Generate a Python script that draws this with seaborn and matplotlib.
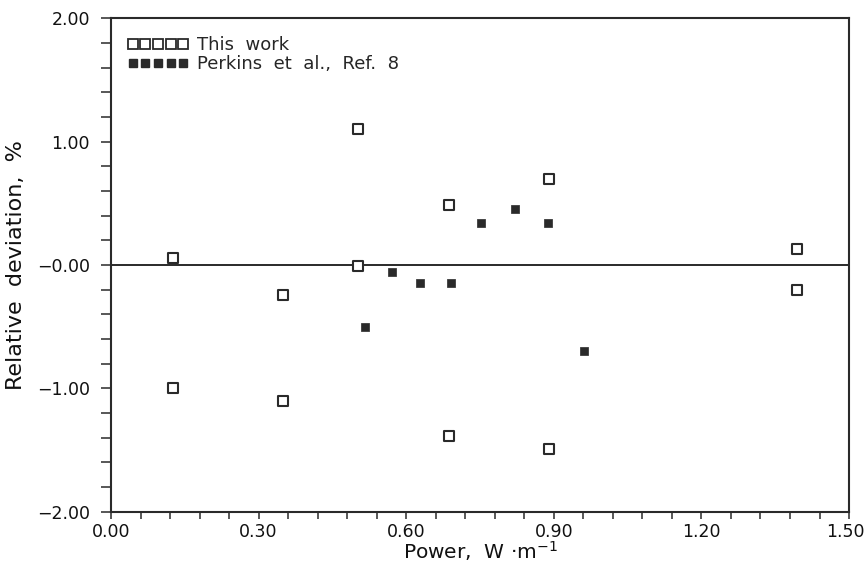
import numpy as np
import pandas as pd
import matplotlib
matplotlib.use('Agg')
import matplotlib.pyplot as plt
import matplotlib.transforms as mtransforms
from matplotlib.lines import Line2D
from matplotlib.ticker import MultipleLocator, FixedLocator, FixedFormatter
import seaborn as sns

##################################################################
# data
this_power = [0.125, 0.125, 0.350, 0.350, 0.503, 0.503, 0.687, 0.687, 0.890, 0.890, 1.394, 1.394]
this_dev = [0.06, -1.00, -0.24, -1.10, 1.10, -0.005, 0.49, -1.39, 0.70, -1.49, 0.13, -0.20]

perk_power = [0.517, 0.571, 0.629, 0.690, 0.753, 0.821, 0.889, 0.962]
perk_dev = [-0.50, -0.06, -0.15, -0.15, 0.34, 0.45, 0.34, -0.70]

legend_labels = ['This  work', 'Perkins  et  al.,  Ref.  8']
ytick_vals = [-2.0, -1.0, 0.0, 1.0, 2.0]
ytick_labels = ['\u22122.00', '\u22121.00', '\u22120.00', '1.00', '2.00']
xtick_vals = [0.0, 0.3, 0.6, 0.9, 1.2, 1.5]
xtick_labels = ['0.00', '0.30', '0.60', '0.90', '1.20', '1.50']

df_this = pd.DataFrame({'Power': this_power, 'Dev': this_dev})
df_perk = pd.DataFrame({'Power': perk_power, 'Dev': perk_dev})

##################################################################
sns.set_style('white')
plt.rcParams['font.family'] = ['DejaVu Sans']
ink = '#2a2a2a'
txt = '#111111'

fig = plt.figure(figsize=[8.66, 5.64], dpi=100)
ax = fig.add_axes([0.1282, 0.0927, 0.8522, 0.8749])

ax.axhline(0, color=ink, lw=1.4, zorder=1)
sns.scatterplot(data=df_this, x='Power', y='Dev', ax=ax, marker='s', s=58,
                facecolor='white', edgecolor=ink, linewidth=1.5, zorder=3)
sns.scatterplot(data=df_perk, x='Power', y='Dev', ax=ax, marker='s', s=40,
                color=ink, edgecolor=ink, linewidth=0.5, zorder=3)

ax.set_xlim(0, 1.5)
ax.set_ylim(-2, 2)
ax.xaxis.set_major_locator(FixedLocator(xtick_vals))
ax.xaxis.set_major_formatter(FixedFormatter(xtick_labels))
ax.xaxis.set_minor_locator(MultipleLocator(0.06))
ax.yaxis.set_major_locator(FixedLocator(ytick_vals))
ax.yaxis.set_major_formatter(FixedFormatter(ytick_labels))
ax.yaxis.set_minor_locator(MultipleLocator(0.2))

ax.tick_params(axis='x', which='both', direction='out', length=5, width=1.1, color=ink,
               bottom=True, top=False, pad=3)
ax.tick_params(axis='y', which='both', direction='out', length=7.2, width=1.1, color=ink,
               left=True, right=False, pad=8)
ax.tick_params(which='major', labelsize=12.5, labelcolor=txt)
for sp in ax.spines.values():
    sp.set_color(ink)
    sp.set_linewidth(1.5)

# keep the last x label inside the canvas
last = ax.get_xticklabels()[-1]
last.set_transform(last.get_transform() + mtransforms.ScaledTranslation(-4 / 100, 0, fig.dpi_scale_trans))

ax.set_xlabel('Power,  W \u00b7m$^{-1}$', fontsize=14.5, color=txt, labelpad=-1)
ax.set_ylabel('Relative  deviation,  %', fontsize=16, color=txt, labelpad=8)

handles = [Line2D([], [], ls='none', marker='s', ms=7.5, mfc='white', mec=ink, mew=1.3),
           Line2D([], [], ls='none', marker='s', ms=6, mfc=ink, mec=ink)]
ax.legend(handles, legend_labels, loc='upper left', numpoints=5, handlelength=3.4,
          handletextpad=0.45, labelspacing=0.08, frameon=False, fontsize=13,
          borderpad=0, borderaxespad=0, bbox_to_anchor=(0.022, 0.964))

plt.savefig('out.png', dpi=100)
